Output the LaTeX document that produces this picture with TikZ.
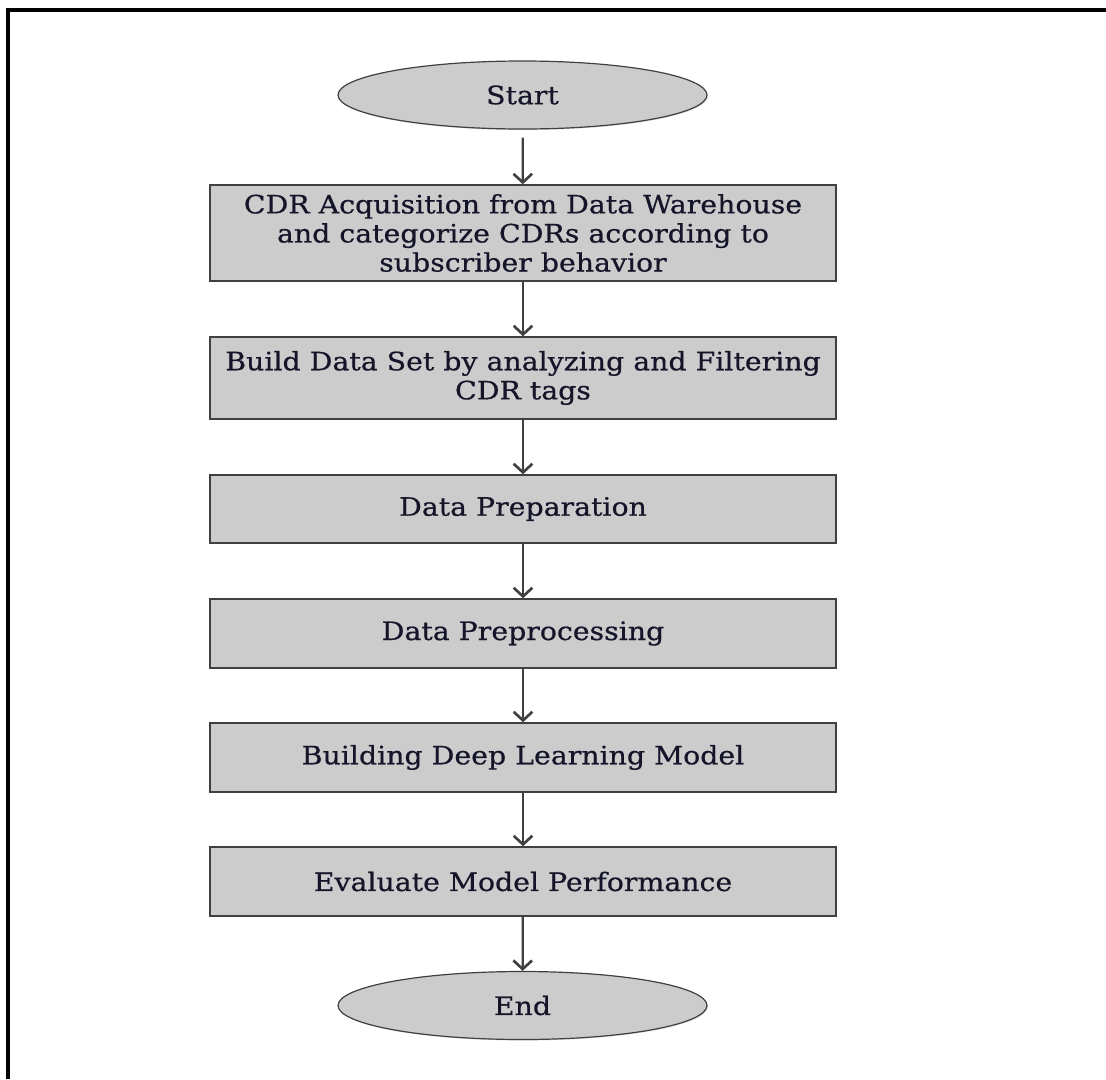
\documentclass[tikz,border=0pt]{standalone}
\usepackage{fontspec}
\setmainfont[FakeStretch=1.12,FakeBold=0.6]{DejaVu Serif}
\usetikzlibrary{arrows.meta,shapes.geometric,shadows}
\definecolor{boxfill}{HTML}{CCCCCC}
\definecolor{boxline}{HTML}{404040}
\definecolor{txt}{HTML}{15152A}
\begin{document}
\begin{tikzpicture}[x=0.75pt,y=-0.75pt,
  every node/.style={font=\fontsize{19pt}{21.8pt}\selectfont, text=txt},
  procbox/.style={draw=boxline, line width=1.1pt, fill=boxfill, rectangle,
    minimum width=469.5pt, inner sep=0pt, align=center,
    drop shadow={shadow xshift=0.8pt, shadow yshift=-0.8pt, opacity=0.25}},
  termnode/.style={draw=boxline, line width=0.9pt, fill=boxfill, ellipse,
    minimum width=276.75pt, minimum height=51pt, inner sep=0pt,
    drop shadow={shadow xshift=0.8pt, shadow yshift=-0.8pt, opacity=0.25}},
  flow/.style={draw=boxline, line width=1.7pt,
    -{Straight Barb[length=6.5pt,width=14pt,line width=2pt]}}
]
\useasboundingbox (0,0) rectangle (1106,1079);
% frame (only top and left edges visible)
\draw[line width=2.3pt, black] (8,1079) -- (8,10) -- (1106,10);

\node[termnode] (start) at (522.5,95) {Start};
\node[procbox, minimum height=72pt] (b1) at (523,233)
  {CDR Acquisition from Data Warehouse\\and categorize CDRs according to\\subscriber behavior};
\node[procbox, minimum height=61.5pt] (b2) at (523,378)
  {Build Data Set by analyzing and Filtering\\CDR tags};
\node[procbox, minimum height=51pt] (b3) at (523,509) {Data Preparation};
\node[procbox, minimum height=51.75pt] (b4) at (523,633.5) {Data Preprocessing};
\node[procbox, minimum height=51.75pt] (b5) at (523,757.5) {Building Deep Learning Model};
\node[procbox, minimum height=51.75pt] (b6) at (523,881.5) {Evaluate Model Performance};
\node[termnode] (end) at (522.5,1005.5) {End};

\draw[flow, shorten <=6pt] (start) -- (b1);
\draw[flow] (b1) -- (b2);
\draw[flow] (b2) -- (b3);
\draw[flow] (b3) -- (b4);
\draw[flow] (b4) -- (b5);
\draw[flow] (b5) -- (b6);
\draw[flow] (b6) -- (end);
\end{tikzpicture}
\end{document}
